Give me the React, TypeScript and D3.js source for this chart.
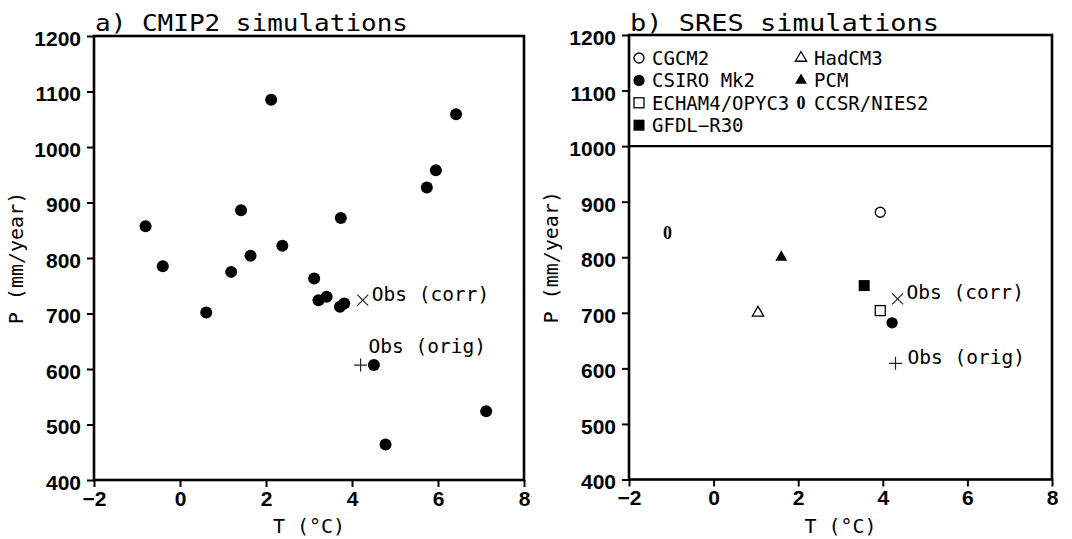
import { useEffect, useRef } from 'react';
import * as d3 from 'd3';

// panel a) CMIP2 runs: warming (°C) and precipitation (mm/year)
const cmip2T = [-0.8, -0.4, 0.61, 1.19, 1.42, 1.64, 2.12, 2.38, 3.12, 3.22, 3.41, 3.72, 3.82, 3.74, 5.74, 5.95, 6.42, 4.51, 7.12, 4.78];
const cmip2P = [857, 785, 702, 775, 886, 804, 1085, 822, 763, 724, 730, 712, 718, 872, 927, 958, 1059, 607, 524, 464];

// panel b) SRES runs
const sresModels = ['CGCM2', 'CSIRO Mk2', 'ECHAM4/OPYC3', 'GFDL\u2212R30', 'HadCM3', 'PCM', 'CCSR/NIES2'];
const sresSymbols = ['circleOpen', 'circleFilled', 'squareOpen', 'squareFilled', 'triangleOpen', 'triangleFilled', 'ccsr'];
const sresT = [3.94, 4.22, 3.94, 3.56, 1.05, 1.6, -1.09];
const sresP = [881, 682, 704, 749, 700, 800, 844];

// observations
const obsLabels = ['Obs (corr)', 'Obs (orig)'];
const obsSymbols = ['cross', 'plus'];
const obsTa = [4.25, 4.2];
const obsPa = [724, 607];
const obsTb = [4.35, 4.3];
const obsPb = [725, 609];

const xTicks = [-2, 0, 2, 4, 6, 8];
const yTicks = [400, 500, 600, 700, 800, 900, 1000, 1100, 1200];

const W = 1072;
const H = 539;
const NUM = '"Liberation Sans", Arial, sans-serif';
const MONO = '"DejaVu Sans Mono", "Liberation Mono", monospace';

function drawSymbol(g: any, kind: string, x: number, y: number) {
  if (kind === 'circleOpen' || kind === 'circleFilled') {
    g.append('circle').attr('cx', x).attr('cy', y).attr('r', 5)
      .attr('fill', kind === 'circleFilled' ? '#000' : '#fff')
      .attr('stroke', '#000').attr('stroke-width', 1.3);
  } else if (kind === 'dot') {
    g.append('circle').attr('cx', x).attr('cy', y).attr('r', 6).attr('fill', '#000');
  } else if (kind === 'squareOpen' || kind === 'squareFilled') {
    const filled = kind === 'squareFilled';
    const s = filled ? 11 : 10;
    g.append('rect').attr('x', x - s / 2).attr('y', y - s / 2).attr('width', s).attr('height', s)
      .attr('fill', filled ? '#000' : '#fff').attr('stroke', '#000').attr('stroke-width', filled ? 0 : 1.3);
  } else if (kind === 'triangleOpen' || kind === 'triangleFilled') {
    const filled = kind === 'triangleFilled';
    g.append('path').attr('transform', `translate(${x},${y})`)
      .attr('d', d3.symbol(d3.symbolTriangle).size(filled ? 62 : 55)())
      .attr('fill', filled ? '#000' : '#fff').attr('stroke', '#000').attr('stroke-width', filled ? 0 : 1.3);
  } else if (kind === 'ccsr') {
    g.append('text').attr('x', x).attr('y', y + 6).attr('text-anchor', 'middle')
      .style('font-family', '"Liberation Serif", serif').style('font-weight', 'bold').style('font-size', '18px')
      .text('0');
  } else if (kind === 'cross') {
    const r = 5.5;
    g.append('path').attr('d', `M${x - r},${y - r}L${x + r},${y + r}M${x - r},${y + r}L${x + r},${y - r}`)
      .attr('stroke', '#222').attr('stroke-width', 1.2);
  } else if (kind === 'plus') {
    const r = 6.5;
    g.append('path').attr('d', `M${x - r},${y}L${x + r},${y}M${x},${y - r}L${x},${y + r}`)
      .attr('stroke', '#222').attr('stroke-width', 1.2);
  }
}

function drawFrame(svg: any, x: any, y: any, title: string, titleLen: number) {
  const [x0, x1] = x.range();
  const [y1, y0] = y.range();
  const g = svg.append('g');

  g.append('g').attr('transform', `translate(${x0},0)`)
    .call(d3.axisLeft(y).tickValues(yTicks).tickSize(7).tickPadding(6).tickFormat(d3.format('d')))
    .call((a: any) => a.select('.domain').remove())
    .call((a: any) => a.selectAll('.tick line').attr('stroke-width', 2))
    .selectAll('text').style('font-family', NUM).style('font-weight', 'bold').style('font-size', '21px').attr('dy', '0.45em');

  g.append('g').attr('transform', `translate(0,${y1})`)
    .call(d3.axisBottom(x).tickValues(xTicks).tickSize(7).tickPadding(4))
    .call((a: any) => a.select('.domain').remove())
    .call((a: any) => a.selectAll('.tick line').attr('stroke-width', 2))
    .selectAll('text').style('font-family', NUM).style('font-weight', 'bold').style('font-size', '21px');

  g.append('rect').attr('x', x0).attr('y', y0).attr('width', x1 - x0).attr('height', y1 - y0)
    .attr('fill', 'none').attr('stroke', '#000').attr('stroke-width', 2.6);

  g.append('text').attr('x', x0 + 1).attr('y', 31).attr('textLength', titleLen).attr('lengthAdjust', 'spacingAndGlyphs')
    .style('font-family', MONO).style('font-size', '23px').text(title);

  g.append('text').attr('x', (x0 + x1) / 2).attr('y', 533).attr('text-anchor', 'middle')
    .style('font-family', MONO).style('font-size', '20px').text('T (°C)');

  g.append('text').attr('transform', `translate(${x0 - 71},${(y0 + y1) / 2}) rotate(-90)`).attr('text-anchor', 'middle')
    .style('font-family', MONO).style('font-size', '20px').text('P (mm/year)');
}

function drawObs(svg: any, x: any, y: any, ts: number[], ps: number[], offsets: number[][]) {
  ts.forEach((t, i) => {
    const px = x(t), py = y(ps[i]);
    drawSymbol(svg, obsSymbols[i], px, py);
    svg.append('text').attr('x', px + offsets[i][0]).attr('y', py + offsets[i][1])
      .style('font-family', MONO).style('font-size', '19.5px')
      .text(obsLabels[i]);
  });
}

export default function App() {
  const ref = useRef<SVGSVGElement>(null);
  useEffect(() => {
    if (!ref.current) return;
    const svg = d3.select(ref.current);
    svg.selectAll('*').remove();

    // panel a
    const xa = d3.scaleLinear().domain([-2, 8]).range([94, 524]);
    const ya = d3.scaleLinear().domain([400, 1200]).range([480, 36]);
    drawFrame(svg, xa, ya, 'a) CMIP2 simulations', 313);
    const ga = svg.append('g');
    cmip2T.forEach((t, i) => drawSymbol(ga, 'dot', xa(t), ya(cmip2P[i])));
    drawObs(svg, xa, ya, obsTa, obsPa, [[9, 1], [8, -12]]);

    // panel b
    const xb = d3.scaleLinear().domain([-2, 8]).range([629, 1052]);
    const yb = d3.scaleLinear().domain([400, 1200]).range([479.5, 35]);
    drawFrame(svg, xb, yb, 'b) SRES simulations', 309);
    svg.append('line').attr('x1', xb(-2)).attr('x2', xb(8)).attr('y1', yb(1000)).attr('y2', yb(1000))
      .attr('stroke', '#000').attr('stroke-width', 2.2);
    const gb = svg.append('g');
    sresT.forEach((t, i) => drawSymbol(gb, sresSymbols[i], xb(t), yb(sresP[i])));
    drawObs(svg, xb, yb, obsTb, obsPb, [[9, 0], [12, 1]]);

    // legend, two columns in the upper box
    const lg = svg.append('g');
    sresModels.forEach((m, i) => {
      const col = i < 4 ? 0 : 1;
      const row = i < 4 ? i : i - 4;
      const sx = col ? 801 : 639;
      const cy = 58 + row * 22.4;
      drawSymbol(lg, sresSymbols[i], sx, cy);
      lg.append('text').attr('x', sx + 13).attr('y', cy + 7)
        .style('font-family', MONO).style('font-size', '19px')
        .text(m);
    });
  }, []);
  return (
    <svg ref={ref} width={W} height={H}
      style={{ position: 'absolute', left: 0, top: 0, background: '#fff' }} />
  );
}
